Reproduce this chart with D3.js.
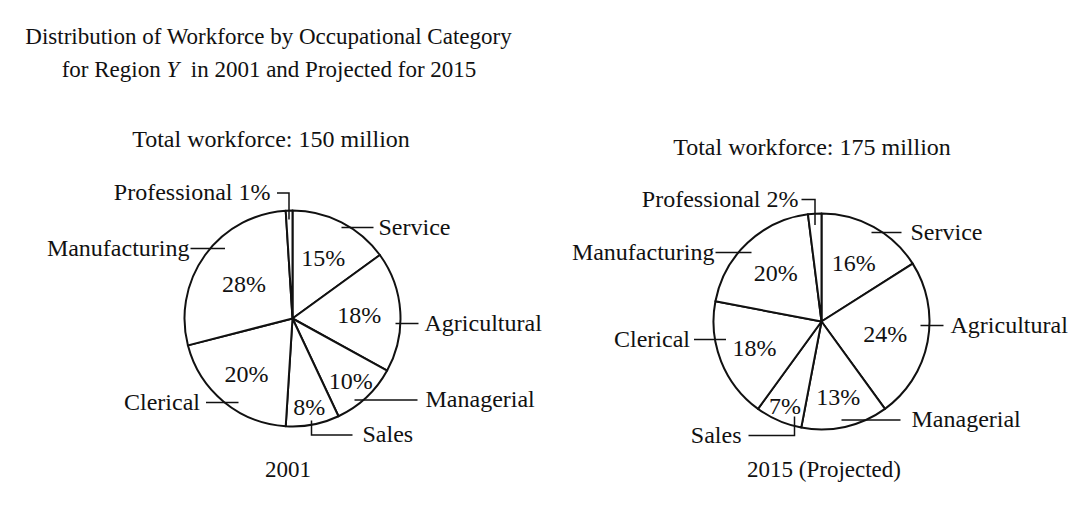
<!DOCTYPE html>
<html>
<head>
<meta charset="utf-8">
<script src="https://cdn.jsdelivr.net/npm/d3@7"></script>
<style>
  body { margin: 0; background: #fff; }
  svg text { font-family: "Liberation Serif", "Times New Roman", serif; fill: #111; }
</style>
</head>
<body>
<div id="chart"></div>
<script>
//-----------------------------DATA-----------------------------//
const categories = ["Service", "Agricultural", "Managerial", "Sales", "Clerical", "Manufacturing", "Professional"];
const values2001 = [15, 18, 10, 8, 20, 28, 1];
const values2015 = [16, 24, 13, 7, 18, 20, 2];
const totals = [150, 175];
const years = ["2001", "2015 (Projected)"];

//----------------------------LAYOUT----------------------------//
const width = 1090;
const height = 508;
const radius = 108;

// percent label distance from centre, per category (null = in outer label)
const pctRadius2001 = [68, 67, 85, 90, 72, 60, null];
const pctRadius2015 = [67, 65, 77, 92, 72, 67, null];

// leader lines relative to pie centre, tx = text x, anchor side
const leaders2001 = [
    { pts: [[49, -91], [81, -91]], tx: 86, anchor: "start" },
    { pts: [[103, 5], [126, 5]], tx: 132, anchor: "start" },
    { pts: [[62, 81.5], [125, 81.5]], tx: 133, anchor: "start" },
    { pts: [[19, 102], [19, 116.5], [60, 116.5]], tx: 70, anchor: "start" },
    { pts: [[-54, 84], [-86.5, 84]], tx: -92.5, anchor: "end" },
    { pts: [[-67.5, -70], [-102, -70]], tx: -103, anchor: "end" },
    { pts: [[-3.5, -99], [-3.5, -125.5], [-15.5, -125.5]], tx: -22, anchor: "end" }
];
const leaders2015 = [
    { pts: [[50, -89], [80, -89]], tx: 89, anchor: "start" },
    { pts: [[99, 4], [122, 4]], tx: 129, anchor: "start" },
    { pts: [[20, 98.5], [79, 98.5]], tx: 90, anchor: "start" },
    { pts: [[-27, 95], [-27, 114], [-73, 114]], tx: -80, anchor: "end" },
    { pts: [[-95.5, 18], [-127.5, 18]], tx: -131.5, anchor: "end" },
    { pts: [[-70, -69], [-106, -69]], tx: -107, anchor: "end" },
    { pts: [[-6.5, -96.5], [-6.5, -122], [-20, -122]], tx: -23, anchor: "end" }
];

const pies = [
    { values: values2001, pctR: pctRadius2001, leaders: leaders2001, cx: 292.5, cy: 318.5,
      totalX: 271, totalY: 147, yearX: 288, yearY: 477 },
    { values: values2015, pctR: pctRadius2015, leaders: leaders2015, cx: 821.5, cy: 321.5,
      totalX: 812, totalY: 155, yearX: 824, yearY: 477 }
];

//-----------------------------SVG------------------------------//
const svg = d3.select("#chart").append("svg")
    .attr("width", width)
    .attr("height", height);

//----------------------------TITLE-----------------------------//
svg.append("text")
    .attr("x", 268.5).attr("y", 44)
    .attr("text-anchor", "middle")
    .style("font-size", "23px")
    .text("Distribution of Workforce by Occupational Category");

const t2 = svg.append("text")
    .attr("x", 269).attr("y", 77)
    .attr("text-anchor", "middle")
    .style("font-size", "23px");
t2.append("tspan").text("for Region ");
t2.append("tspan").style("font-style", "italic").text("Y");
t2.append("tspan").text("\u00a0 in 2001 and Projected for 2015");

//-----------------------------PIES-----------------------------//
const pie = d3.pie().sort(null).value(d => d.value);
const arc = d3.arc().innerRadius(0).outerRadius(radius);
const line = d3.line();

pies.forEach(function (p, i) {
    const data = categories.map((c, k) => ({ name: c, value: p.values[k], k: k }));
    const g = svg.append("g")
        .attr("transform", "translate(" + p.cx + "," + p.cy + ")");

    svg.append("text")
        .attr("x", p.totalX).attr("y", p.totalY)
        .attr("text-anchor", "middle")
        .style("font-size", "24px")
        .text("Total workforce: " + totals[i] + " million");

    g.selectAll(".slice")
        .data(pie(data))
        .enter().append("path")
        .attr("class", "slice")
        .attr("d", arc)
        .attr("fill", "#fff")
        .attr("stroke", "#111")
        .attr("stroke-width", 2)
        .attr("stroke-linejoin", "round");

    // percent labels
    g.selectAll(".pct")
        .data(pie(data).filter(d => p.pctR[d.data.k] !== null))
        .enter().append("text")
        .attr("class", "pct")
        .attr("transform", function (d) {
            const a = (d.startAngle + d.endAngle) / 2;
            const r = p.pctR[d.data.k];
            return "translate(" + (Math.sin(a) * r) + "," + (-Math.cos(a) * r) + ")";
        })
        .attr("dy", "0.35em")
        .attr("text-anchor", "middle")
        .style("font-size", "24px")
        .text(d => d.value + "%");

    // leader lines and category labels
    data.forEach(function (d) {
        const l = p.leaders[d.k];
        g.append("path")
            .attr("d", line(l.pts))
            .attr("fill", "none")
            .attr("stroke", "#111")
            .attr("stroke-width", 1.5);
        const last = l.pts[l.pts.length - 1];
        g.append("text")
            .attr("x", l.tx)
            .attr("y", last[1])
            .attr("dy", "0.3em")
            .attr("text-anchor", l.anchor)
            .style("font-size", "24px")
            .text(d.name === "Professional" ? d.name + " " + d.value + "%" : d.name);
    });

    svg.append("text")
        .attr("x", p.yearX).attr("y", p.yearY)
        .attr("text-anchor", "middle")
        .style("font-size", "23px")
        .text(years[i]);
});
</script>
</body>
</html>
